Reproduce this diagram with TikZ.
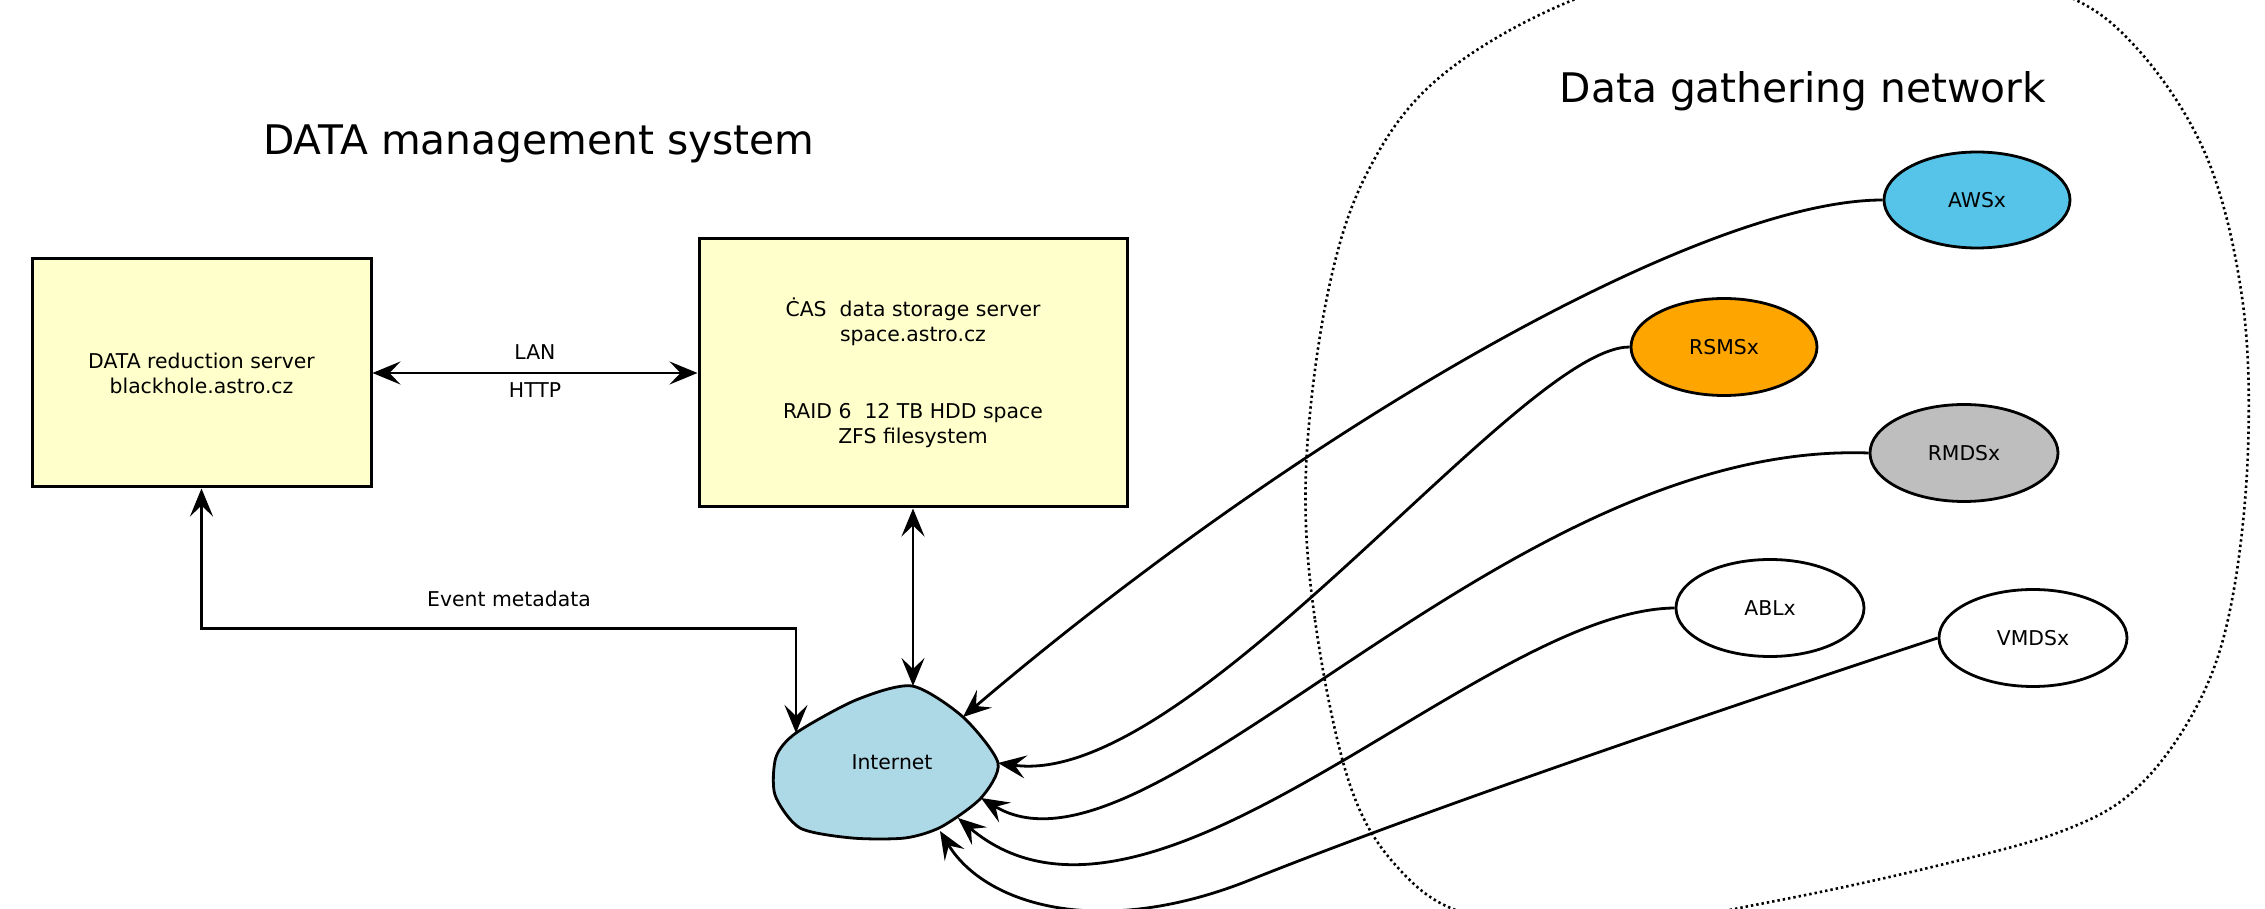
\documentclass[tikz,border=0pt]{standalone}
\usepackage{fontspec}
\setmainfont{DejaVu Sans}
\usetikzlibrary{shapes.geometric,arrows.meta}

\definecolor{boxfill}{RGB}{255,255,204}
\definecolor{awsfill}{RGB}{86,195,232}
\definecolor{rsmsfill}{RGB}{255,165,0}
\definecolor{rmdsfill}{RGB}{190,190,190}
\definecolor{inetfill}{RGB}{173,216,230}

\tikzset{
  serverbox/.style={draw, line width=0.03cm, fill=boxfill, align=center, inner sep=0pt},
  station/.style={draw, ellipse, line width=0.028cm, inner sep=0pt,
                  minimum width=1.88cm, minimum height=0.97cm},
  link/.style={line width=0.028cm, >={Stealth[length=2.8mm,width=2.3mm,inset=1.1mm]}},
  arealine/.style={line width=0.026cm, dash pattern=on 0.024cm off 0.03cm}
}

\begin{document}
\begin{tikzpicture}
                \clip (0,0) rectangle (22.650000,9.090000);
                {\fontsize{5.8}{7.1}\selectfont

                % Drawing area of the data gathering network
                \draw [arealine] plot [smooth cycle, tension=0.6] coordinates {
                  (13.06,4.39) (13.15,2.89) (13.50,1.24) (14.00,0.39) (14.70,-0.06)
                  (16.00,-0.21) (17.65,0.06) (19.32,0.42) (20.65,0.79) (21.40,1.24)
                  (22.00,2.09) (22.32,3.09) (22.48,4.59) (22.42,6.12) (22.05,7.56)
                  (21.32,8.66) (20.50,9.20) (19.00,9.55) (17.30,9.50) (15.73,9.09)
                  (14.40,8.32) (13.67,7.36) (13.27,6.12)};%

                % Titles
                \node (titledms) [anchor=base] at (5.390000,7.540000)
                  {\fontsize{11.6}{14}\selectfont DATA management system};%
                \node (titledgn) [anchor=base] at (18.030000,8.060000)
                  {\fontsize{11.6}{14}\selectfont Data gathering network};%

                % Drawing the servers
                \node (reduction) [serverbox, minimum width=3.39cm, minimum height=2.28cm]
                  at (2.015000,5.360000) {DATA reduction server\\blackhole.astro.cz};%
                \node (storage) [serverbox, minimum width=4.28cm, minimum height=2.68cm]
                  at (9.130000,5.360000)
                  {ĊAS\ \ data storage server\\space.astro.cz\\[0.52cm]RAID 6\ \ 12 TB HDD space\\ZFS filesystem};%

                % Drawing the Internet cloud
                \draw [line width=0.028cm, fill=inetfill] plot [smooth cycle, tension=0.45] coordinates {
                  (9.12,2.23) (9.63,1.92) (9.98,1.46) (9.81,1.11) (9.41,0.82) (9.05,0.71)
                  (8.52,0.71) (8.00,0.81) (7.75,1.14) (7.76,1.52) (7.96,1.76) (8.56,2.09)};%
                \node (inet) at (8.920000,1.470000) {Internet};%
                \coordinate (inetMeta) at (7.960000,1.760000);%
                \coordinate (inetTop) at (9.130000,2.230000);%
                \coordinate (inetAWS) at (9.630000,1.920000);%
                \coordinate (inetRSMS) at (9.980000,1.460000);%
                \coordinate (inetRMDS) at (9.810000,1.110000);%
                \coordinate (inetABL) at (9.580000,0.910000);%
                \coordinate (inetVMDS) at (9.400000,0.780000);%

                % Drawing the stations
                \node (aws) [station, fill=awsfill, minimum width=1.86cm, minimum height=0.96cm]
                  at (19.770000,7.090000) {AWSx};%
                \node (rsms) [station, fill=rsmsfill, minimum width=1.86cm]
                  at (17.240000,5.620000) {RSMSx};%
                \node (rmds) [station, fill=rmdsfill] at (19.640000,4.560000) {RMDSx};%
                \node (abl) [station, fill=white] at (17.700000,3.010000) {ABLx};%
                \node (vmds) [station, fill=white] at (20.330000,2.710000) {VMDSx};%

                % Drawing link reduction storage
                \draw [link, <->] (reduction.east) -- (storage.west)
                  node (lan) [midway, yshift=0.21cm] {LAN}
                  node (http) [midway, yshift=-0.17cm] {HTTP};%

                % Drawing link reduction Internet
                \draw [link, <->] (reduction.south) -- ++(0,-1.400000) -| (inetMeta);%
                \node (meta) [anchor=base] at (5.090000,3.020000) {Event metadata};%

                % Drawing link storage Internet
                \draw [link, <->] (storage.south) -- (inetTop);%

                % Drawing links stations Internet
                \draw [link, ->] (aws.west) .. controls (17.00,7.09) and (13.00,4.79) .. (inetAWS);%
                \draw [link, ->] (rsms.west) .. controls (15.20,5.62) and (11.90,1.19) .. (inetRSMS);%
                \draw [link, ->] (rmds.west) .. controls (15.00,4.69) and (11.50,0.09) .. (inetRMDS);%
                \draw [link, ->] (abl.west) .. controls (14.80,2.99) and (11.50,-0.71) .. (inetABL);%
                \draw [link, ->] (vmds.west) .. controls (17.80,2.19) and (14.50,1.09) .. (12.50,0.29)
                  .. controls (11.00,-0.31) and (9.85,0.04) .. (inetVMDS);%
                }
\end{tikzpicture}
\end{document}
